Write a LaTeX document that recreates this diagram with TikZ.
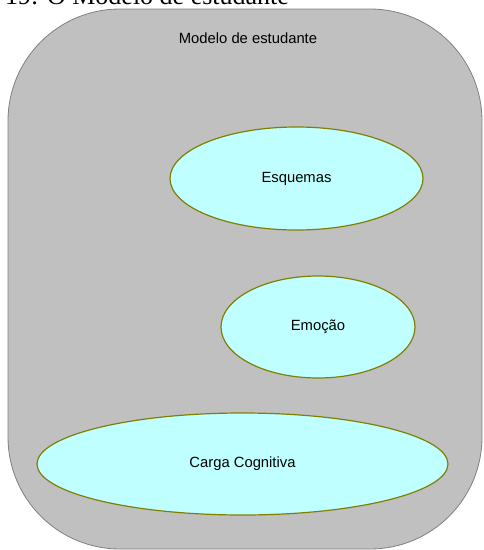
\documentclass[tikz,border=0pt]{standalone}
\usepackage{fontspec}
\setmainfont{Liberation Sans}
\newfontfamily\captionserif{Liberation Serif}
\usetikzlibrary{shapes.geometric}
\definecolor{panelgray}{HTML}{C0C0C0}
\definecolor{paneledge}{HTML}{808080}
\definecolor{bubblefill}{HTML}{C0FFFF}
\definecolor{bubbleedge}{HTML}{808000}
\tikzset{
  panel/.style={fill=panelgray, draw=paneledge, line width=0.8pt, rounded corners=112pt},
  bubble/.style={ellipse, fill=bubblefill, draw=bubbleedge, line width=1.2pt, inner sep=0pt,
    font=\fontsize{14.8}{17}\selectfont},
  label/.style={inner sep=0pt, font=\fontsize{14.8}{17}\selectfont}
}
\begin{document}
\begin{tikzpicture}[x=1pt, y=-1pt]
  \useasboundingbox (0,0) rectangle (483,550);
  % figure caption running off the top edge
  \node[anchor=base west, inner sep=0pt, font=\captionserif\fontsize{26}{30}\selectfont] (caption) at (5,4) {19: O Modelo de estudante};
  % student model container
  \draw[panel] (8,9) rectangle (482,549);
  \node[label] (title) at (248,38) {Modelo de estudante};
  % components of the model
  \node[bubble, minimum width=253pt, minimum height=103pt] (esquemas) at (296.5,178.5) {Esquemas};
  \node[bubble, minimum width=194pt, minimum height=102pt] (emocao) at (318,327) {Emoção};
  \node[bubble, minimum width=411pt, minimum height=102pt] (carga) at (242.5,464) {Carga Cognitiva};
\end{tikzpicture}
\end{document}
